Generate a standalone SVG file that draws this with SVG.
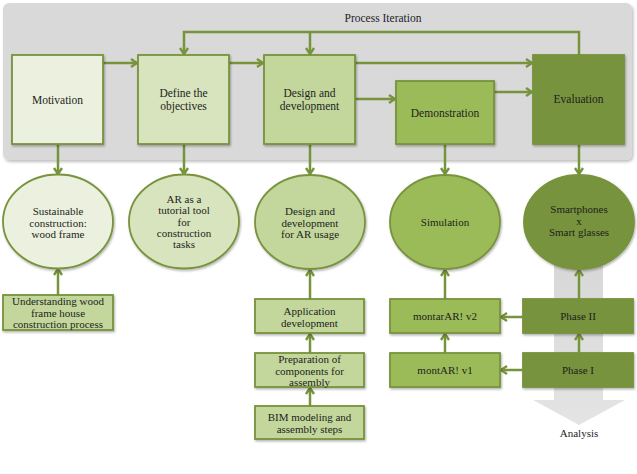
<svg xmlns="http://www.w3.org/2000/svg" width="637" height="474" viewBox="0 0 637 474">
<defs>
<filter id="sh" x="-10%" y="-10%" width="130%" height="130%">
<feDropShadow dx="1" dy="1.5" stdDeviation="1.2" flood-color="#000" flood-opacity="0.3"/>
</filter>
<filter id="psh" x="-5%" y="-5%" width="110%" height="115%">
<feDropShadow dx="1.5" dy="2" stdDeviation="1.5" flood-color="#000" flood-opacity="0.25"/>
</filter>
<linearGradient id="ga" x1="0" y1="0" x2="0" y2="1">
<stop offset="0" stop-color="#d6d6d6"/>
<stop offset="1" stop-color="#e4e4e4"/>
</linearGradient>
<marker id="ah" viewBox="0 0 10 10" markerWidth="10" markerHeight="10" markerUnits="userSpaceOnUse" refX="8.5" refY="5" orient="auto">
<path d="M2.5,1 L8.5,5 L2.5,9" fill="none" stroke="#77933C" stroke-width="2.4"/>
</marker>
</defs>
<style>
.t{font-family:"Liberation Serif","Times New Roman",serif;font-size:11.5px;fill:#1e1e1e;text-anchor:middle}
.s{font-family:"Liberation Serif","Times New Roman",serif;font-size:11px;fill:#1e1e1e;text-anchor:middle}
.n{stroke:#77933C;stroke-width:1.8;filter:url(#sh)}
.c{fill:none;stroke:#77933C;stroke-width:2.5}
.a{marker-end:url(#ah)}
</style>
<rect width="637" height="474" fill="#ffffff"/>
<g id="panel">
<rect x="3" y="3" width="629" height="157" rx="6" fill="#d9d9d9" filter="url(#psh)"/>
<text class="t" x="383" y="22">Process Iteration</text>
</g>
<g id="analysis-arrow">
<path d="M554,240 H603 V400 H625 L579,425 L533,400 H554 Z" fill="url(#ga)"/>
<text class="s" x="579" y="437">Analysis</text>
</g>
<g id="connectors">
<path class="c a" d="M103,63 H137"/>
<path class="c a" d="M229,63 H263"/>
<path class="c a" d="M355,63 H532"/>
<path class="c a" d="M355,99 H395"/>
<path class="c a" d="M494,92 H532"/>
<path class="c a" d="M579,55 V32 H184 V54"/>
<path class="c a" d="M310,32 V54"/>
<path class="c a" d="M58,144 V174"/>
<path class="c a" d="M184,144 V174"/>
<path class="c a" d="M310,144 V174"/>
<path class="c a" d="M445,144 V174"/>
<path class="c a" d="M579,144 V174"/>
<path class="c a" d="M58,295 V269"/>
<path class="c a" d="M310,299 V270"/>
<path class="c a" d="M310,353 V334"/>
<path class="c a" d="M310,406 V388"/>
<path class="c a" d="M445,299 V270"/>
<path class="c a" d="M445,353 V334"/>
<path class="c a" d="M579,299 V270"/>
<path class="c a" d="M579,353 V334"/>
<path class="c a" d="M523,317 H501"/>
<path class="c a" d="M523,370 H501"/>
</g>
<g id="motivation">
<rect class="n" x="12" y="55" width="91" height="89" fill="#EBF1DE"/>
<text class="t" x="57.5" y="104">Motivation</text>
</g>
<g id="define">
<rect class="n" x="138" y="55" width="91" height="89" fill="#D7E4BD"/>
<text class="t" x="183.5" y="97"><tspan x="183.5">Define the</tspan><tspan x="183.5" dy="13">objectives</tspan></text>
</g>
<g id="design">
<rect class="n" x="264" y="55" width="91" height="89" fill="#C3D69B"/>
<text class="t" x="309.5" y="97"><tspan x="309.5">Design and</tspan><tspan x="309.5" dy="13">development</tspan></text>
</g>
<g id="demonstration">
<rect class="n" x="396" y="81" width="98" height="63" fill="#9BBB59"/>
<text class="t" x="445" y="117">Demonstration</text>
</g>
<g id="evaluation">
<rect class="n" x="533" y="55" width="91" height="89" fill="#77933C"/>
<text class="t" x="578.5" y="103">Evaluation</text>
</g>
<g id="sustainable">
<ellipse class="n" cx="58" cy="221.5" rx="55" ry="47" fill="#EBF1DE"/>
<text class="s" x="58" y="215"><tspan x="58">Sustainable</tspan><tspan x="58" dy="11.5">construction:</tspan><tspan x="58" dy="11.5">wood frame</tspan></text>
</g>
<g id="ar-tutorial">
<ellipse class="n" cx="184" cy="221.5" rx="55" ry="47" fill="#D7E4BD"/>
<text class="s" x="184" y="203"><tspan x="184">AR as a</tspan><tspan x="184" dy="11.3">tutorial tool</tspan><tspan x="184" dy="11.3">for</tspan><tspan x="184" dy="11.3">construction</tspan><tspan x="184" dy="11.3">tasks</tspan></text>
</g>
<g id="design-ar">
<ellipse class="n" cx="310" cy="222" rx="55" ry="47" fill="#C3D69B"/>
<text class="s" x="310" y="215"><tspan x="310">Design and</tspan><tspan x="310" dy="11.5">development</tspan><tspan x="310" dy="11.5">for AR usage</tspan></text>
</g>
<g id="simulation">
<ellipse class="n" cx="445" cy="222" rx="55" ry="47" fill="#9BBB59"/>
<text class="s" x="445" y="226">Simulation</text>
</g>
<g id="smartphones">
<ellipse class="n" cx="579" cy="222" rx="55" ry="47" fill="#77933C"/>
<text class="s" x="579" y="213"><tspan x="579">Smartphones</tspan><tspan x="579" dy="11.5">x</tspan><tspan x="579" dy="11.5">Smart glasses</tspan></text>
</g>
<g id="understanding">
<rect class="n" x="3" y="295" width="110" height="35" fill="#C3D69B"/>
<text class="s" x="58" y="305"><tspan x="58">Understanding wood</tspan><tspan x="58" dy="11.5">frame house</tspan><tspan x="58" dy="11.5">construction process</tspan></text>
</g>
<g id="application">
<rect class="n" x="255" y="299" width="109" height="34" fill="#C3D69B"/>
<text class="s" x="309.5" y="315"><tspan x="309.5">Application</tspan><tspan x="309.5" dy="11.5">development</tspan></text>
</g>
<g id="preparation">
<rect class="n" x="255" y="353" width="109" height="34" fill="#C3D69B"/>
<text class="s" x="309.5" y="363"><tspan x="309.5">Preparation of</tspan><tspan x="309.5" dy="11.5">components for</tspan><tspan x="309.5" dy="11.5">assembly</tspan></text>
</g>
<g id="bim">
<rect class="n" x="255" y="406" width="109" height="33" fill="#C3D69B"/>
<text class="s" x="309.5" y="421"><tspan x="309.5">BIM modeling and</tspan><tspan x="309.5" dy="11.5">assembly steps</tspan></text>
</g>
<g id="montar-v2">
<rect class="n" x="390" y="299" width="110" height="34" fill="#9BBB59"/>
<text class="s" x="445" y="320">montarAR! v2</text>
</g>
<g id="montar-v1">
<rect class="n" x="390" y="353" width="110" height="34" fill="#9BBB59"/>
<text class="s" x="445" y="374">montAR! v1</text>
</g>
<g id="phase2">
<rect class="n" x="523" y="299" width="110" height="34" fill="#77933C"/>
<text class="s" x="578" y="320">Phase II</text>
</g>
<g id="phase1">
<rect class="n" x="523" y="353" width="110" height="34" fill="#77933C"/>
<text class="s" x="578" y="374">Phase I</text>
</g>
</svg>
